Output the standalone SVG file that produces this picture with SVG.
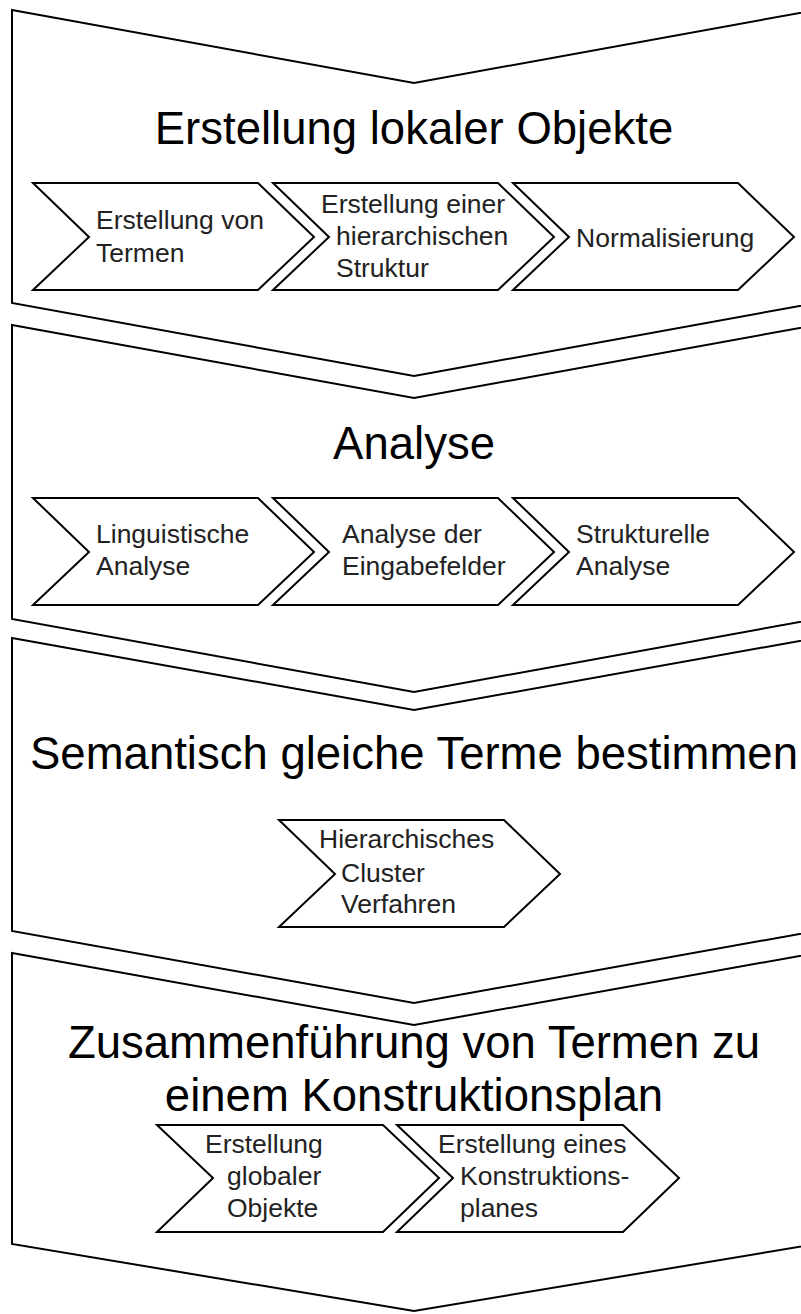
<svg xmlns="http://www.w3.org/2000/svg" width="801" height="1314" viewBox="0 0 801 1314">
<style>
.big{fill:#fff;stroke:#000;stroke-width:2;stroke-linejoin:miter}
.sub{fill:#fff;stroke:#000;stroke-width:2;stroke-linejoin:miter}
.title{font-family:"Liberation Sans",Arial,sans-serif;font-size:45.5px;fill:#000;text-anchor:middle}
.lbl{font-family:"Liberation Sans",Arial,sans-serif;font-size:26.5px;fill:#222}
</style>
<rect width="801" height="1314" fill="#fff"/>
<g id="connectors"></g>
<g id="phase1">
<polygon class="big" points="12,10 414,83 816,10 816,303 414,376 12,303"/>
<text class="title" x="414" y="144">Erstellung lokaler Objekte</text>
</g>
<g id="step1a">
<polygon class="sub" points="33,183 258,183 314,237 258,290 33,290 89,237"/>
<text class="lbl" x="96" y="229">Erstellung von</text>
<text class="lbl" x="96" y="262">Termen</text>
</g>
<g id="step1b">
<polygon class="sub" points="273,183 498,183 554,237 498,290 273,290 329,237"/>
<text class="lbl" x="321" y="213">Erstellung einer</text>
<text class="lbl" x="336" y="245">hierarchischen</text>
<text class="lbl" x="336" y="277">Struktur</text>
</g>
<g id="step1c">
<polygon class="sub" points="513,183 738,183 794,237 738,290 513,290 569,237"/>
<text class="lbl" x="576" y="247">Normalisierung</text>
</g>
<g id="phase2">
<polygon class="big" points="12,325 414,398 816,325 816,619 414,692 12,619"/>
<text class="title" x="414" y="459">Analyse</text>
</g>
<g id="step2a">
<polygon class="sub" points="33,498 258,498 314,552 258,605 33,605 89,552"/>
<text class="lbl" x="96" y="543">Linguistische</text>
<text class="lbl" x="96" y="575">Analyse</text>
</g>
<g id="step2b">
<polygon class="sub" points="273,498 498,498 554,552 498,605 273,605 329,552"/>
<text class="lbl" x="342" y="543">Analyse der</text>
<text class="lbl" x="342" y="575">Eingabefelder</text>
</g>
<g id="step2c">
<polygon class="sub" points="513,498 738,498 794,552 738,605 513,605 569,552"/>
<text class="lbl" x="576" y="543">Strukturelle</text>
<text class="lbl" x="576" y="575">Analyse</text>
</g>
<g id="phase3">
<polygon class="big" points="12,638 414,710 816,638 816,931 414,1003 12,931"/>
<text class="title" x="414" y="769">Semantisch gleiche Terme bestimmen</text>
</g>
<g id="step3a">
<polygon class="sub" points="279,820 504,820 560,874 504,927 279,927 335,874"/>
<text class="lbl" x="319" y="848">Hierarchisches</text>
<text class="lbl" x="341" y="882">Cluster</text>
<text class="lbl" x="341" y="913">Verfahren</text>
</g>
<g id="phase4">
<polygon class="big" points="12,953 414,1025 816,953 816,1244 414,1311 12,1244"/>
<text class="title" x="414" y="1058">Zusammenführung von Termen zu</text>
<text class="title" x="414" y="1111">einem Konstruktionsplan</text>
</g>
<g id="step4a">
<polygon class="sub" points="157,1125 383,1125 439,1178 383,1232 157,1232 213,1178"/>
<text class="lbl" x="205" y="1153">Erstellung</text>
<text class="lbl" x="227" y="1185">globaler</text>
<text class="lbl" x="227" y="1217">Objekte</text>
</g>
<g id="step4b">
<polygon class="sub" points="397,1125 623,1125 679,1178 623,1232 397,1232 453,1178"/>
<text class="lbl" x="438" y="1153">Erstellung eines</text>
<text class="lbl" x="460" y="1185">Konstruktions-</text>
<text class="lbl" x="460" y="1217">planes</text>
</g>
</svg>
